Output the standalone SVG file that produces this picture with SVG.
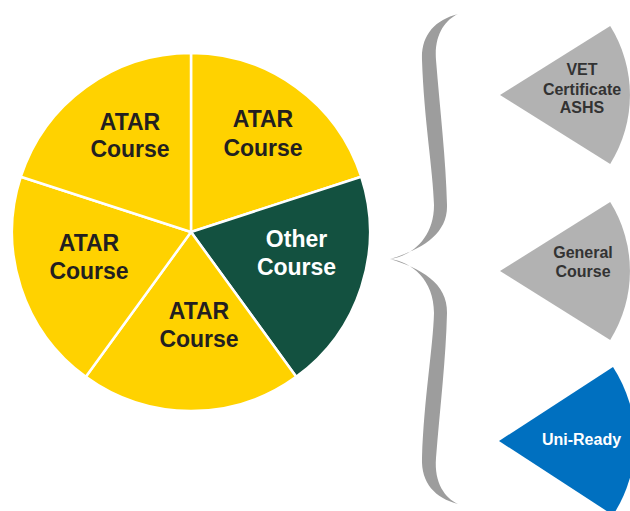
<svg xmlns="http://www.w3.org/2000/svg" width="630" height="511" viewBox="0 0 630 511">
<style>
.slice{stroke:#fff;stroke-width:2.5;stroke-linejoin:round}
.atar{fill:#FFD200}
.other{fill:#135140}
.pl{font-family:"Liberation Sans",Arial,sans-serif;font-weight:bold;font-size:23px;text-anchor:middle;fill:#231F20}
.wl{font-family:"Liberation Sans",Arial,sans-serif;font-weight:bold;font-size:16px;text-anchor:middle;fill:#333}
.grey{fill:#B2B2B2}
.blue{fill:#0070C0}
</style>
<rect width="630" height="511" fill="#fff"/>
<g id="pie">
<g id="slice-atar-tr">
<path class="slice atar" d="M191,232 L191,53 A179,179 0 0 1 361.2,176.7 Z"/>
<text class="pl" x="263" y="127">ATAR</text>
<text class="pl" x="263" y="156">Course</text>
</g>
<g id="slice-other">
<path class="slice other" d="M191,232 L361.2,176.7 A179,179 0 0 1 296.2,376.8 Z"/>
<text class="pl" x="296.5" y="247" style="fill:#fff">Other</text>
<text class="pl" x="296.5" y="275" style="fill:#fff">Course</text>
</g>
<g id="slice-atar-b">
<path class="slice atar" d="M191,232 L296.2,376.8 A179,179 0 0 1 85.8,376.8 Z"/>
<text class="pl" x="199" y="319">ATAR</text>
<text class="pl" x="199" y="347">Course</text>
</g>
<g id="slice-atar-l">
<path class="slice atar" d="M191,232 L85.8,376.8 A179,179 0 0 1 20.8,176.7 Z"/>
<text class="pl" x="89" y="251">ATAR</text>
<text class="pl" x="89" y="279">Course</text>
</g>
<g id="slice-atar-tl">
<path class="slice atar" d="M191,232 L20.8,176.7 A179,179 0 0 1 191,53 Z"/>
<text class="pl" x="130" y="130">ATAR</text>
<text class="pl" x="130" y="157">Course</text>
</g>
</g>
<g id="brace">
<path id="brace-top" fill="#9D9D9D" d="M458,14 C435,20 421,35 422,60 C424,120 433,170 434,205 C434,238 412,256 390,259 C420,250 448,235 447,205 C446,160 440,110 436,60 C434,35 445,20 458,14 Z"/>
<use href="#brace-top" transform="translate(0,518) scale(1,-1)"/>
</g>
<g id="wedge-vet">
<path class="grey" d="M500,95 L610.2,26.1 A130,130 0 0 1 610.2,163.9 Z"/>
<text class="wl" x="582" y="75">VET</text>
<text class="wl" x="582" y="94.5">Certificate</text>
<text class="wl" x="582" y="113">ASHS</text>
</g>
<g id="wedge-general">
<path class="grey" d="M500,271 L610.2,202.1 A130,130 0 0 1 610.2,339.9 Z"/>
<text class="wl" x="583" y="258">General</text>
<text class="wl" x="583" y="276.5">Course</text>
</g>
<g id="wedge-uni">
<path class="blue" d="M499,441 L613,366.9 A136,136 0 0 1 613,515.1 Z"/>
<text class="wl" x="581.5" y="444.5" style="fill:#fff">Uni-Ready</text>
</g>
</svg>
